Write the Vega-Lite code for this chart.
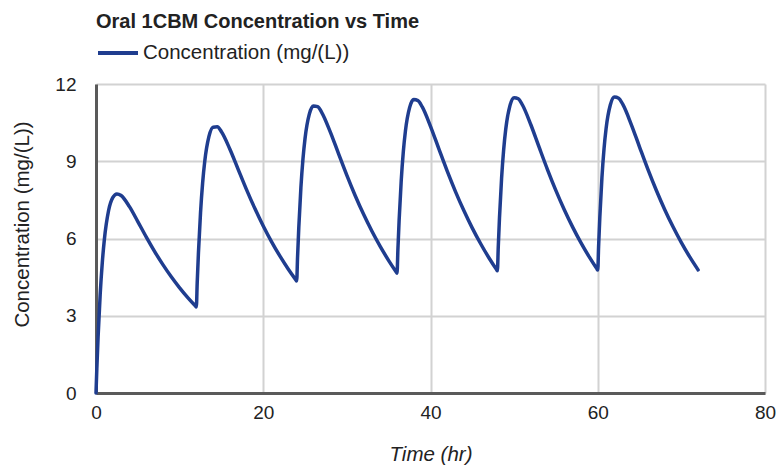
{
  "$schema": "https://vega.github.io/schema/vega-lite/v6.json",
  "autosize": {"type": "none"},
  "padding": {"left": 96, "top": 84, "right": 19, "bottom": 74},
  "width": 669,
  "height": 309,
  "background": "white",
  "title": {
    "text": "Oral 1CBM Concentration vs Time",
    "anchor": "start",
    "frame": "group",
    "fontSize": 20,
    "fontWeight": "bold",
    "font": "Liberation Sans",
    "color": "#222222",
    "offset": -1
  },
  "data": {
    "values": [
      {"t": 0, "c": 0}, {"t": 0.1, "c": 0.946}, {"t": 0.25, "c": 2.181}, {"t": 0.5, "c": 3.826}, {"t": 0.75, "c": 5.054}, {"t": 1, "c": 5.96}, {"t": 1.5, "c": 7.077}, {"t": 2, "c": 7.586}, {"t": 2.5, "c": 7.733}, {"t": 3, "c": 7.67}, {"t": 4, "c": 7.237}, {"t": 5, "c": 6.658}, {"t": 6, "c": 6.064}, {"t": 7, "c": 5.502}, {"t": 8, "c": 4.984}, {"t": 9, "c": 4.512}, {"t": 10, "c": 4.084}, {"t": 11, "c": 3.695}, {"t": 11.9, "c": 3.377},
      {"t": 12, "c": 3.343}, {"t": 12.1, "c": 4.256}, {"t": 12.25, "c": 5.441}, {"t": 12.5, "c": 7.006}, {"t": 12.75, "c": 8.155}, {"t": 13, "c": 8.985}, {"t": 13.5, "c": 9.954}, {"t": 14, "c": 10.323}, {"t": 14.5, "c": 10.337}, {"t": 15, "c": 10.147}, {"t": 16, "c": 9.478}, {"t": 17, "c": 8.686}, {"t": 18, "c": 7.899}, {"t": 19, "c": 7.162}, {"t": 20, "c": 6.486}, {"t": 21, "c": 5.871}, {"t": 22, "c": 5.314}, {"t": 23, "c": 4.808}, {"t": 23.9, "c": 4.394},
      {"t": 24, "c": 4.35}, {"t": 24.1, "c": 5.253}, {"t": 24.25, "c": 6.424}, {"t": 24.5, "c": 7.964}, {"t": 24.75, "c": 9.089}, {"t": 25, "c": 9.896}, {"t": 25.5, "c": 10.821}, {"t": 26, "c": 11.147}, {"t": 26.5, "c": 11.121}, {"t": 27, "c": 10.892}, {"t": 28, "c": 10.153}, {"t": 29, "c": 9.296}, {"t": 30, "c": 8.451}, {"t": 31, "c": 7.662}, {"t": 32, "c": 6.938}, {"t": 33, "c": 6.281}, {"t": 34, "c": 5.684}, {"t": 35, "c": 5.143}, {"t": 35.9, "c": 4.7},
      {"t": 36, "c": 4.653}, {"t": 36.1, "c": 5.553}, {"t": 36.25, "c": 6.719}, {"t": 36.5, "c": 8.252}, {"t": 36.75, "c": 9.371}, {"t": 37, "c": 10.17}, {"t": 37.5, "c": 11.082}, {"t": 38, "c": 11.395}, {"t": 38.5, "c": 11.357}, {"t": 39, "c": 11.117}, {"t": 40, "c": 10.356}, {"t": 41, "c": 9.48}, {"t": 42, "c": 8.618}, {"t": 43, "c": 7.813}, {"t": 44, "c": 7.075}, {"t": 45, "c": 6.404}, {"t": 46, "c": 5.796}, {"t": 47, "c": 5.244}, {"t": 47.9, "c": 4.792},
      {"t": 48, "c": 4.744}, {"t": 48.1, "c": 5.643}, {"t": 48.25, "c": 6.808}, {"t": 48.5, "c": 8.339}, {"t": 48.75, "c": 9.455}, {"t": 49, "c": 10.252}, {"t": 49.5, "c": 11.16}, {"t": 50, "c": 11.47}, {"t": 50.5, "c": 11.428}, {"t": 51, "c": 11.184}, {"t": 52, "c": 10.417}, {"t": 53, "c": 9.535}, {"t": 54, "c": 8.668}, {"t": 55, "c": 7.858}, {"t": 56, "c": 7.115}, {"t": 57, "c": 6.441}, {"t": 58, "c": 5.829}, {"t": 59, "c": 5.274}, {"t": 59.9, "c": 4.82},
      {"t": 60, "c": 4.772}, {"t": 60.1, "c": 5.67}, {"t": 60.25, "c": 6.835}, {"t": 60.5, "c": 8.365}, {"t": 60.75, "c": 9.481}, {"t": 61, "c": 10.278}, {"t": 61.5, "c": 11.184}, {"t": 62, "c": 11.493}, {"t": 62.5, "c": 11.449}, {"t": 63, "c": 11.205}, {"t": 64, "c": 10.436}, {"t": 65, "c": 9.552}, {"t": 66, "c": 8.683}, {"t": 67, "c": 7.872}, {"t": 68, "c": 7.128}, {"t": 69, "c": 6.453}, {"t": 70, "c": 5.84}, {"t": 71, "c": 5.284}, {"t": 72, "c": 4.78}
    ]
  },
  "mark": {"type": "line", "interpolate": "monotone", "strokeWidth": 3.5, "strokeCap": "round", "strokeJoin": "round"},
  "encoding": {
    "x": {
      "field": "t",
      "type": "quantitative",
      "scale": {"domain": [0, 80], "nice": false},
      "axis": {
        "values": [0, 20, 40, 60, 80],
        "title": "Time (hr)",
        "titleFontStyle": "italic",
        "titleFontWeight": "normal",
        "titleFontSize": 20.5,
        "titlePadding": 22,
        "labelFontSize": 19,
        "labelPadding": 10,
        "tickSize": 0,
        "labelFlush": false
      }
    },
    "y": {
      "field": "c",
      "type": "quantitative",
      "scale": {"domain": [0, 12], "nice": false},
      "axis": {
        "values": [0, 3, 6, 9, 12],
        "title": "Concentration (mg/(L))",
        "titleFontWeight": "normal",
        "titleFontSize": 20.5,
        "titlePadding": 22,
        "titleY": 140,
        "labelFontSize": 19,
        "labelPadding": 20,
        "tickSize": 0,
        "labelFlush": false
      }
    },
    "color": {
      "datum": "Concentration (mg/(L))",
      "type": "nominal",
      "scale": {"range": ["#1f3d8f"]},
      "legend": {
        "title": null,
        "orient": "none",
        "legendX": 0,
        "legendY": -53,
        "symbolType": "stroke",
        "symbolSize": 1600,
        "symbolStrokeWidth": 4,
        "labelFontSize": 20.5,
        "labelOffset": 3,
        "labelLimit": 400,
        "padding": 0
      }
    }
  },
  "config": {
    "font": "Liberation Sans",
    "view": {"stroke": null},
    "axis": {
      "gridColor": "#d2d2d2",
      "gridWidth": 2,
      "domainColor": "#5a5a5a",
      "domainWidth": 3,
      "labelColor": "#222222",
      "titleColor": "#222222",
      "labelFont": "Liberation Sans",
      "titleFont": "Liberation Sans"
    },
    "legend": {"labelColor": "#222222", "labelFont": "Liberation Sans"}
  }
}
